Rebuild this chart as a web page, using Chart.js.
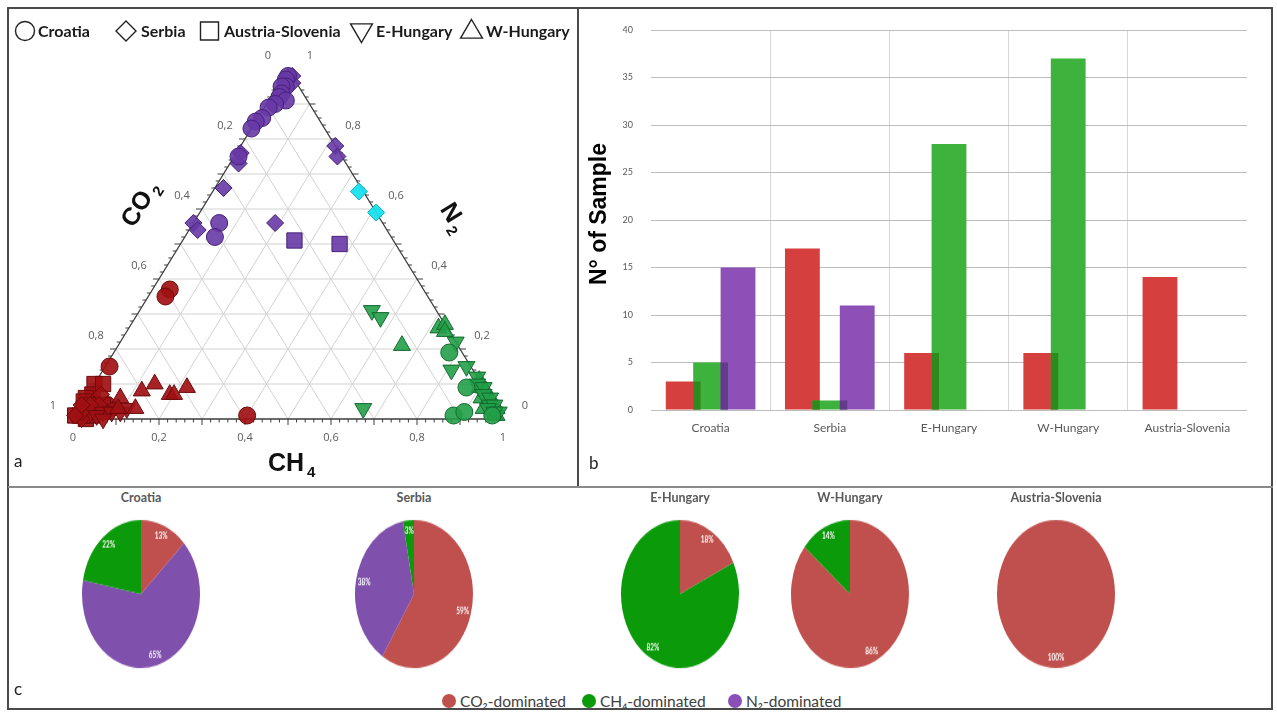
<!DOCTYPE html>
<html>
<head>
<meta charset="utf-8">
<title>Gas composition of thermal waters</title>
<script src="https://cdn.jsdelivr.net/npm/chart.js@4.4.1/dist/chart.umd.min.js"></script>
<style>
  html, body { margin: 0; padding: 0; background: #fff; }
  #fig { position: relative; width: 1277px; height: 716px; overflow: hidden; font-family: Lato, "Open Sans", sans-serif; }
  canvas { position: absolute; }
  .line { position: absolute; background: #4a4a4a; z-index: 5; }
  .pie { position: absolute; width: 130px; height: 130px; transform: scaleY(1.254); transform-origin: 50% 50%; }
  .pie canvas { left: 0; top: 0; }
  .ptitle { position: absolute; width: 200px; text-align: center; font: bold 12.5px Lato, sans-serif; color: #595959; top: 490px; }
  .tag { position: absolute; font: 17px Lato, sans-serif; color: #222; }
  .leg { position: absolute; top: 692px; font: 15.5px Lato, sans-serif; color: #404040; white-space: nowrap; }
  .dot { position: absolute; top: 694px; width: 14px; height: 14px; border-radius: 50%; }
</style>
</head>
<body>
<div id="fig">
  <canvas id="tern" width="577" height="486" style="left:0;top:0"></canvas>
  <canvas id="bars" width="693" height="486" style="left:579px;top:0"></canvas>

  <div class="line" style="left:8px;top:7px;width:1265px;height:2px"></div>
  <div class="line" style="left:8px;top:708px;width:1265px;height:2px"></div>
  <div class="line" style="left:7px;top:7px;width:2px;height:703px"></div>
  <div class="line" style="left:1271px;top:7px;width:2px;height:703px"></div>
  <div class="line" style="left:577px;top:7px;width:2px;height:480px"></div>
  <div class="line" style="left:8px;top:486px;width:1265px;height:2px;background:#8a8a8a"></div>

  <div class="tag" style="left:14px;top:450px">a</div>
  <div class="tag" style="left:589px;top:452px">b</div>
  <div class="tag" style="left:14px;top:678px">c</div>

  <div id="pies"></div>

  <div class="dot" style="left:442px;background:#c0504d"></div>
  <div class="leg" style="left:460px">CO₂-dominated</div>
  <div class="dot" style="left:582px;background:#0a9a0a"></div>
  <div class="leg" style="left:600px">CH₄-dominated</div>
  <div class="dot" style="left:728px;background:#8a50b8"></div>
  <div class="leg" style="left:746px">N₂-dominated</div>
</div>

<script>
// ---------- Ternary diagram data: each sample is [CO2, CH4, N2] (fractions) ----------
const croatiaN2 = [[0.01,0.01,0.98],[0.02,0.01,0.97],[0.03,0.02,0.95],[0.04,0.01,0.95],[0.05,0.02,0.93],
  [0.06,0.02,0.92],[0.05,0.04,0.91],[0.08,0.02,0.90],[0.10,0.01,0.89],[0.13,0.01,0.86],[0.15,0.00,0.85],
  [0.17,0.00,0.83],[0.24,0.01,0.75],[0.38,0.06,0.56],[0.41,0.07,0.52]];
const croatiaCO2 = [[0.59,0.04,0.37],[0.61,0.04,0.35],[0.84,0.01,0.15],[0.59,0.40,0.01],
  [0.93,0.02,0.05],[0.95,0.03,0.02],[0.90,0.06,0.04]];
const croatiaCH4 = [[0.03,0.78,0.19],[0.04,0.87,0.09],[0.11,0.88,0.01],[0.08,0.90,0.02],[0.02,0.97,0.01]];

const serbiaN2 = [[0.00,0.02,0.98],[0.02,0.01,0.97],[0.01,0.03,0.96],[0.00,0.22,0.78],[0.01,0.24,0.75],
  [0.23,0.01,0.76],[0.25,0.02,0.73],[0.32,0.02,0.66],[0.44,0.00,0.56],[0.44,0.02,0.54],[0.25,0.19,0.56]];
const serbiaMixed = [[0.01,0.34,0.65],[0.00,0.41,0.59]];
const serbiaCO2 = [[0.95,0.01,0.04],[0.93,0.05,0.02],[0.91,0.07,0.02],[0.96,0.03,0.01],[0.98,0.02,0.00],
  [0.90,0.03,0.07],[0.92,0.04,0.04],[0.97,0.01,0.02],[0.94,0.02,0.04],[0.89,0.08,0.03],[0.99,0.00,0.01],[0.96,0.00,0.04]];

const austriaCO2 = [[0.90,0.00,0.10],[0.92,0.01,0.07],[0.94,0.00,0.06],[0.96,0.01,0.03],[0.98,0.01,0.01],
  [0.97,0.03,0.00],[0.95,0.04,0.01],[0.93,0.03,0.04],[0.91,0.05,0.04],[0.99,0.00,0.01],[0.88,0.02,0.10],[0.95,0.00,0.05]];
const austriaN2 = [[0.23,0.26,0.51],[0.13,0.37,0.50]];

const eHungaryCH4 = [[0.15,0.54,0.31],[0.14,0.57,0.29],[0.31,0.66,0.03],[0.00,0.78,0.22],[0.01,0.84,0.15],
  [0.05,0.81,0.14],[0.00,0.88,0.12],[0.01,0.89,0.10],[0.00,0.91,0.09],[0.01,0.92,0.07],[0.00,0.94,0.06],
  [0.01,0.95,0.04],[0.00,0.96,0.04],[0.02,0.95,0.03],[0.00,0.98,0.02],[0.01,0.97,0.02]];
const eHungaryCO2 = [[0.92,0.06,0.02],[0.90,0.08,0.02],[0.88,0.10,0.02],[0.94,0.05,0.01],[0.86,0.11,0.03],[0.93,0.07,0.00]];

const wHungaryCH4 = [[0.13,0.66,0.21],[0.02,0.72,0.26],[0.00,0.73,0.27],[0.01,0.74,0.25],[0.00,0.89,0.11],
  [0.01,0.90,0.09],[0.00,0.92,0.08],[0.02,0.92,0.06],[0.00,0.95,0.05],[0.01,0.96,0.03],[0.00,0.97,0.03],
  [0.01,0.98,0.01],[0.03,0.94,0.03]];
const wHungaryCO2 = [[0.76,0.14,0.10],[0.80,0.12,0.08],[0.74,0.19,0.07],[0.73,0.20,0.07],[0.69,0.22,0.09],
  [0.84,0.13,0.03],[0.86,0.08,0.06],[0.88,0.09,0.03]];

const ternTicks = [0, 0.2, 0.4, 0.6, 0.8, 1];

// ---------- Bar chart data (number of samples) ----------
const barCategories = ['Croatia', 'Serbia', 'E-Hungary', 'W-Hungary', 'Austria-Slovenia'];
const co2Counts = [3, 17, 6, 6, 14];
const ch4Counts = [5, 1, 28, 37, 0];
const n2Counts  = [15, 11, 0, 0, 0];

// ---------- Pie data (share of samples, %) ----------
const pieRegions = ['Croatia', 'Serbia', 'E-Hungary', 'W-Hungary', 'Austria-Slovenia'];
const pieCO2 = [13, 59, 18, 86, 100];
const pieN2  = [65, 38, 0, 0, 0];
const pieCH4 = [22, 3, 82, 14, 0];

// ---------- styles ----------
const C = {
  red:   { fill: 'rgba(160,16,20,0.92)',  edge: '#6b0a0a' },
  green: { fill: 'rgba(34,158,72,0.9)',   edge: '#126b2e' },
  purple:{ fill: 'rgba(104,56,166,0.9)',  edge: '#45207a' },
  cyan:  { fill: 'rgba(24,226,238,0.95)', edge: '#0ab4c0' }
};
const SHAPE = {
  circle:   { style: 'circle',   r: 8.5, rot: 0 },
  diamond:  { style: 'rectRot',  r: 8.5, rot: 0 },
  square:   { style: 'rect',     r: 10.8, rot: 0 },
  triDown:  { style: 'triangle', r: 9.8, rot: 180 },
  triUp:    { style: 'triangle', r: 9.8, rot: 0 }
};
const ternGroups = [
  [croatiaN2, 'circle', 'purple'], [serbiaN2, 'diamond', 'purple'], [austriaN2, 'square', 'purple'],
  [serbiaMixed, 'diamond', 'cyan'],
  [croatiaCH4, 'circle', 'green'], [eHungaryCH4, 'triDown', 'green'], [wHungaryCH4, 'triUp', 'green'],
  [wHungaryCO2, 'triUp', 'red'], [eHungaryCO2, 'triDown', 'red'], [serbiaCO2, 'diamond', 'red'],
  [austriaCO2, 'square', 'red'], [croatiaCO2, 'circle', 'red']
];

// ternary composition -> plot coordinates (x along CH4 base, y = N2 height)
const toXY = ([co2, ch4, n2]) => {
  const s = co2 + ch4 + n2;
  return { x: (ch4 + n2 / 2) / s, y: n2 / s };
};

function shapePath(ctx, kind, x, y, r) {
  ctx.beginPath();
  if (kind === 'circle') ctx.arc(x, y, r, 0, Math.PI * 2);
  else if (kind === 'diamond') { ctx.moveTo(x, y - r); ctx.lineTo(x + r, y); ctx.lineTo(x, y + r); ctx.lineTo(x - r, y); ctx.closePath(); }
  else if (kind === 'square') ctx.rect(x - r, y - r, 2 * r, 2 * r);
  else if (kind === 'triUp') { ctx.moveTo(x, y - r); ctx.lineTo(x + r * 0.95, y + r * 0.62); ctx.lineTo(x - r * 0.95, y + r * 0.62); ctx.closePath(); }
  else if (kind === 'triDown') { ctx.moveTo(x, y + r); ctx.lineTo(x + r * 0.95, y - r * 0.62); ctx.lineTo(x - r * 0.95, y - r * 0.62); ctx.closePath(); }
}

const fmt = v => (v === 0 ? '0' : v === 1 ? '1' : v.toFixed(1).replace('.', ','));

const ternaryFrame = {
  id: 'ternaryFrame',
  beforeDatasetsDraw(chart) {
    const ctx = chart.ctx, xs = chart.scales.x, ys = chart.scales.y;
    const P = (ch4, n2) => [xs.getPixelForValue(ch4 + n2 / 2), ys.getPixelForValue(n2)];
    const seg = (a, b) => { ctx.beginPath(); ctx.moveTo(a[0], a[1]); ctx.lineTo(b[0], b[1]); ctx.stroke(); };
    ctx.save();
    // inner grid every 0.1
    ctx.strokeStyle = '#d2d2d2'; ctx.lineWidth = 1;
    for (let k = 1; k < 10; k++) {
      const v = k / 10;
      seg(P(0, v), P(1 - v, v));
      seg(P(v, 0), P(v, 1 - v));
      seg(P(1 - v, 0), P(0, 1 - v));
    }
    // triangle outline
    ctx.strokeStyle = '#3c3c3c'; ctx.lineWidth = 1.3;
    const A = P(0, 0), B = P(1, 0), T = P(0, 1);
    ctx.beginPath(); ctx.moveTo(...A); ctx.lineTo(...B); ctx.lineTo(...T); ctx.closePath(); ctx.stroke();
    // ticks every 0.02, longer every 0.1
    ctx.lineWidth = 1;
    for (let k = 1; k < 50; k++) {
      const v = k / 50, len = k % 5 === 0 ? 6 : 3.5;
      const b = P(v, 0); seg(b, [b[0], b[1] + len]);
      const l = P(0, v); seg(l, [l[0] - len, l[1]]);
      const r = P(1 - v, v); seg(r, [r[0] + len, r[1]]);
    }
    // tick labels
    ctx.fillStyle = '#5c5c5c'; ctx.font = '11px "Open Sans", sans-serif';
    ctx.textAlign = 'center'; ctx.textBaseline = 'middle';
    ternTicks.forEach(v => {
      const b = P(v, 0); ctx.fillText(fmt(v), b[0], b[1] + 19);
      const l = P(0, 1 - v); ctx.fillText(fmt(v), l[0] - 20, l[1] - 13);
      const r = P(1 - v, v); ctx.fillText(fmt(v), r[0] + 22, r[1] - 13);
    });
    // axis titles
    ctx.fillStyle = '#111';
    const title = (main, sub, x, y, ang) => {
      ctx.save(); ctx.translate(x, y); ctx.rotate(ang);
      ctx.font = 'bold 25px "Liberation Sans", Arial, sans-serif';
      ctx.textAlign = 'left'; ctx.textBaseline = 'alphabetic';
      const w = ctx.measureText(main).width;
      ctx.fillText(main, -w / 2, 9);
      ctx.font = 'bold 15px "Liberation Sans", Arial, sans-serif';
      ctx.fillText(sub, -w / 2 + w + 3, 15);
      ctx.restore();
    };
    const edgeAng = Math.atan2(T[1] - A[1], T[0] - A[0]);
    title('CO', '2', 136, 208, edgeAng);
    title('N', '2', 452, 212, -edgeAng);
    title('CH', '4', 286, 462, 0);
    // symbol legend along the top
    const items = [['circle', 'Croatia', 25, 38], ['diamond', 'Serbia', 126, 141],
      ['square', 'Austria-Slovenia', 209.5, 224], ['triDown', 'E-Hungary', 361.5, 376],
      ['triUp', 'W-Hungary', 471.5, 486]];
    const rs = { circle: 9.5, diamond: 10, square: 9, triDown: 11.5, triUp: 11.5 };
    ctx.font = 'bold 16px Lato, sans-serif';
    items.forEach(([kind, text, sx, tx]) => {
      ctx.strokeStyle = '#222'; ctx.lineWidth = 1.4;
      shapePath(ctx, kind, sx, 31, rs[kind]); ctx.stroke();
      ctx.fillStyle = '#1a1a1a'; ctx.textAlign = 'left'; ctx.textBaseline = 'middle';
      ctx.fillText(text, tx, 32);
    });
    ctx.restore();
  }
};

new Chart(document.getElementById('tern'), {
  type: 'scatter',
  data: {
    datasets: ternGroups.map(([pts, shape, col]) => ({
      data: pts.map(toXY),
      pointStyle: SHAPE[shape].style,
      pointRotation: SHAPE[shape].rot,
      pointRadius: SHAPE[shape].r,
      pointHoverRadius: SHAPE[shape].r,
      backgroundColor: C[col].fill,
      borderColor: C[col].edge,
      borderWidth: 1,
      clip: false
    }))
  },
  options: {
    responsive: false, animation: false, events: [],
    layout: { padding: { left: 73, right: 74, top: 69, bottom: 67 } },
    scales: {
      x: { type: 'linear', min: 0, max: 1, display: false },
      y: { type: 'linear', min: 0, max: 1, display: false }
    },
    plugins: { legend: { display: false }, tooltip: { enabled: false } }
  },
  plugins: [ternaryFrame]
});

// ---------- bar chart ----------
const barFill = ['#d5403f', '#3db23c', '#8c50b7'];
const overlapFill = [null, '#2f8a1d', '#633b8c'];

const barLayers = {
  id: 'barLayers',
  beforeDatasetsDraw(chart) {
    const ctx = chart.ctx;
    const metas = chart.data.datasets.map((d, i) => chart.getDatasetMeta(i));
    // later series are painted over earlier ones
    metas.forEach(m => m.controller.draw());
    // darker band where a bar overlaps its left neighbour
    ctx.save();
    for (let k = 1; k < metas.length; k++) {
      metas[k].data.forEach((b, i) => {
        const a = metas[k - 1].data[i];
        const va = chart.data.datasets[k - 1].data[i], vb = chart.data.datasets[k].data[i];
        if (!va || !vb) return;
        const left = b.x - b.width / 2, right = a.x + a.width / 2;
        if (right <= left) return;
        const top = Math.max(a.y, b.y);
        ctx.fillStyle = overlapFill[k];
        ctx.fillRect(left, top, right - left, b.base - top);
      });
    }
    ctx.restore();
    return false;
  },
  afterDraw(chart) {
    const ctx = chart.ctx;
    ctx.save();
    ctx.translate(21, 214);
    ctx.rotate(-Math.PI / 2);
    ctx.font = 'bold 23px "Liberation Sans", Arial, sans-serif';
    ctx.fillStyle = '#000'; ctx.textAlign = 'center'; ctx.textBaseline = 'middle';
    ctx.fillText('N° of Sample', 0, 0);
    ctx.restore();
  }
};

new Chart(document.getElementById('bars'), {
  type: 'bar',
  data: {
    labels: barCategories,
    datasets: [
      { label: 'CO2', data: co2Counts, backgroundColor: barFill[0] },
      { label: 'CH4', data: ch4Counts, backgroundColor: barFill[1] },
      { label: 'N2',  data: n2Counts,  backgroundColor: barFill[2] }
    ]
  },
  options: {
    responsive: false, animation: false, events: [],
    datasets: { bar: { barPercentage: 1.27, categoryPercentage: 0.69 } },
    layout: { padding: { left: 42, right: 25, top: 30, bottom: 36 } },
    scales: {
      x: {
        grid: { offset: true, drawTicks: false, lineWidth: 1,
                color: c => (c.index > 0 && c.index < 5) ? '#d6d6d6' : 'rgba(0,0,0,0)' },
        border: { display: false },
        ticks: { color: '#595959', font: { family: 'Lato', size: 12 }, padding: 11 },
        afterFit: s => { s.height = 40; }
      },
      y: {
        min: 0, max: 40,
        grid: { drawTicks: false, color: '#bdbdbd' },
        border: { display: false },
        ticks: { stepSize: 5, color: '#595959', font: { family: 'Lato', size: 9 }, padding: 18 },
        afterFit: s => { s.width = 30; }
      }
    },
    plugins: { legend: { display: false }, tooltip: { enabled: false } }
  },
  plugins: [barLayers]
});

// ---------- pies ----------
const pieFill = ['#c0504d', '#8050ad', '#0a9a0a'];   // CO2, N2, CH4 (clockwise from top)
const pieCentres = [141, 414, 680, 850, 1056];

const pieLabels = {
  id: 'pieLabels',
  afterDatasetsDraw(chart) {
    const ctx = chart.ctx, meta = chart.getDatasetMeta(0), vals = chart.data.datasets[0].data;
    ctx.save();
    ctx.fillStyle = '#fff'; ctx.font = 'bold 6.5px Lato, sans-serif';
    ctx.textAlign = 'center'; ctx.textBaseline = 'middle';
    meta.data.forEach((arc, j) => {
      if (!vals[j]) return;
      const mid = (arc.startAngle + arc.endAngle) / 2, r = arc.outerRadius * 0.86;
      ctx.fillText(vals[j] + '%', arc.x + Math.cos(mid) * r, arc.y + Math.sin(mid) * r);
    });
    ctx.restore();
  }
};

const pieHost = document.getElementById('pies');
pieRegions.forEach((name, i) => {
  const t = document.createElement('div');
  t.className = 'ptitle'; t.textContent = name;
  t.style.left = (pieCentres[i] - 100) + 'px';
  pieHost.appendChild(t);
  const wrap = document.createElement('div');
  wrap.className = 'pie';
  wrap.style.left = (pieCentres[i] - 65) + 'px';
  wrap.style.top = '529px';
  const cv = document.createElement('canvas');
  cv.width = 130; cv.height = 130;
  wrap.appendChild(cv);
  pieHost.appendChild(wrap);
  new Chart(cv, {
    type: 'pie',
    data: {
      labels: ['CO₂-dominated', 'N₂-dominated', 'CH₄-dominated'],
      datasets: [{ data: [pieCO2[i], pieN2[i], pieCH4[i]], backgroundColor: pieFill, borderWidth: 0 }]
    },
    options: {
      responsive: false, animation: false, events: [],
      layout: { padding: 6 },
      plugins: { legend: { display: false }, tooltip: { enabled: false } }
    },
    plugins: [pieLabels]
  });
});
</script>
</body>
</html>
